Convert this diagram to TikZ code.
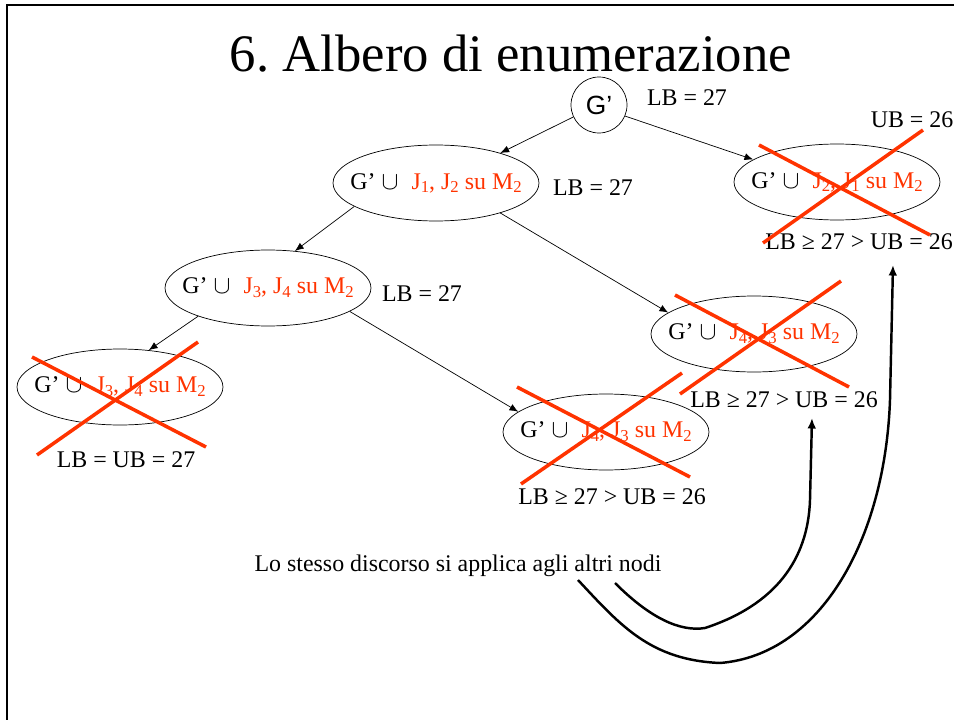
\documentclass[tikz,border=0pt]{standalone}
\usepackage{fontspec}
\setmainfont{Liberation Serif}
\setsansfont{Liberation Sans}
\usetikzlibrary{arrows.meta, shapes.geometric}
\definecolor{crossred}{RGB}{255,51,0}
\frenchspacing

\begin{document}
\begin{tikzpicture}[x=0.02cm, y=-0.02cm, font=\fontsize{13.6}{16}\selectfont,
    state/.style={draw, ellipse, minimum width=4.12cm, minimum height=1.52cm,
        inner xsep=-0.4cm, inner ysep=0pt},
    root/.style={draw, circle, minimum size=1.12cm, inner sep=0pt,
        font=\sffamily\fontsize{15}{18}\selectfont},
    branch/.style={-{Latex[length=5pt, width=4pt]}, thin},
    cut/.style={crossred, line width=2pt},
    hint/.style={-{Latex[length=6pt, width=5pt]}, line width=1.4pt}]

% --- FRAME AND TITLE ---
\useasboundingbox (0,0) rectangle (954,720);
\draw[line width=1.1pt] (7,720) -- (7,5) -- (954,5);
\node[font=\fontsize{30}{36}\selectfont] (title) at (511,54) {6. Albero di enumerazione};

% --- TREE NODES ---
\newcommand{\low}[1]{\raisebox{-0.35ex}{\fontsize{9.5}{10}\selectfont #1}}
\newcommand{\sel}[2]{G’ $\cup$\hspace{0.55em}\textcolor{crossred}{J\low{#1}, J\low{#2} su M\low{2}}}
\node[root] (g) at (599,105) {G’};
\node[state] (a) at (436,183) {\sel{1}{2}};
\node[state] (b) at (837,182) {\sel{2}{1}};
\node[state] (c) at (268,288) {\sel{3}{4}};
\node[state] (d) at (754,334) {\sel{4}{3}};
\node[state] (e) at (120,387) {\sel{3}{4}};
\node[state] (f) at (606,432) {\sel{4}{3}};

% --- BOUNDS ---
\node (lbg) at (687,98)  {LB = 27};
\node (ub)  at (912,120) {UB = 26};
\node (lba) at (593,188) {LB = 27};
\node (lbb) at (859,242) {LB ≥ 27 > UB = 26};
\node (lbc) at (422,294) {LB = 27};
\node (lbd) at (784,400) {LB ≥ 27 > UB = 26};
\node (lbe) at (126,460) {LB = UB = 27};
\node (lbf) at (612,497) {LB ≥ 27 > UB = 26};

% --- BRANCHES ---
\draw[branch] (g.-23)  -- (b.165);
\draw[branch] (g.205)  -- (a.25);
\draw[branch] (a.196)  -- (c.54);
\draw[branch] (a.-25)  -- (d.166);
\draw[branch] (c.202)  -- (e.52);
\draw[branch] (c.-16)  -- (f.167);

% --- PRUNED NODES (crosses) ---
\draw[cut] (759,145) -- (930,235);
\draw[cut] (923,130) -- (763,243);
\draw[cut] (32,357)  -- (206,447);
\draw[cut] (198,342) -- (37,455);
\draw[cut] (675,295) -- (849,387);
\draw[cut] (841,281) -- (680,394);
\draw[cut] (517,387) -- (690,477);
\draw[cut] (682,373) -- (521,484);

% --- NOTE AND CURVED ARROWS ---
\node (note) at (458,566) {Lo stesso discorso si applica agli altri nodi};
\coordinate (inA) at (615,583);
\coordinate (inB) at (812,418);
\coordinate (outA) at (578,580);
\coordinate (outB) at (893,265);
\draw[hint] (inA) .. controls (650,618) and (680,632) .. (705,628)
    .. controls (775,605) and (808,560) .. (810,500) -- (inB);
\draw[hint] (outA) .. controls (620,625) and (650,660) .. (720,663)
    .. controls (820,655) and (885,540) .. (890,400) -- (outB);

\end{tikzpicture}
\end{document}
